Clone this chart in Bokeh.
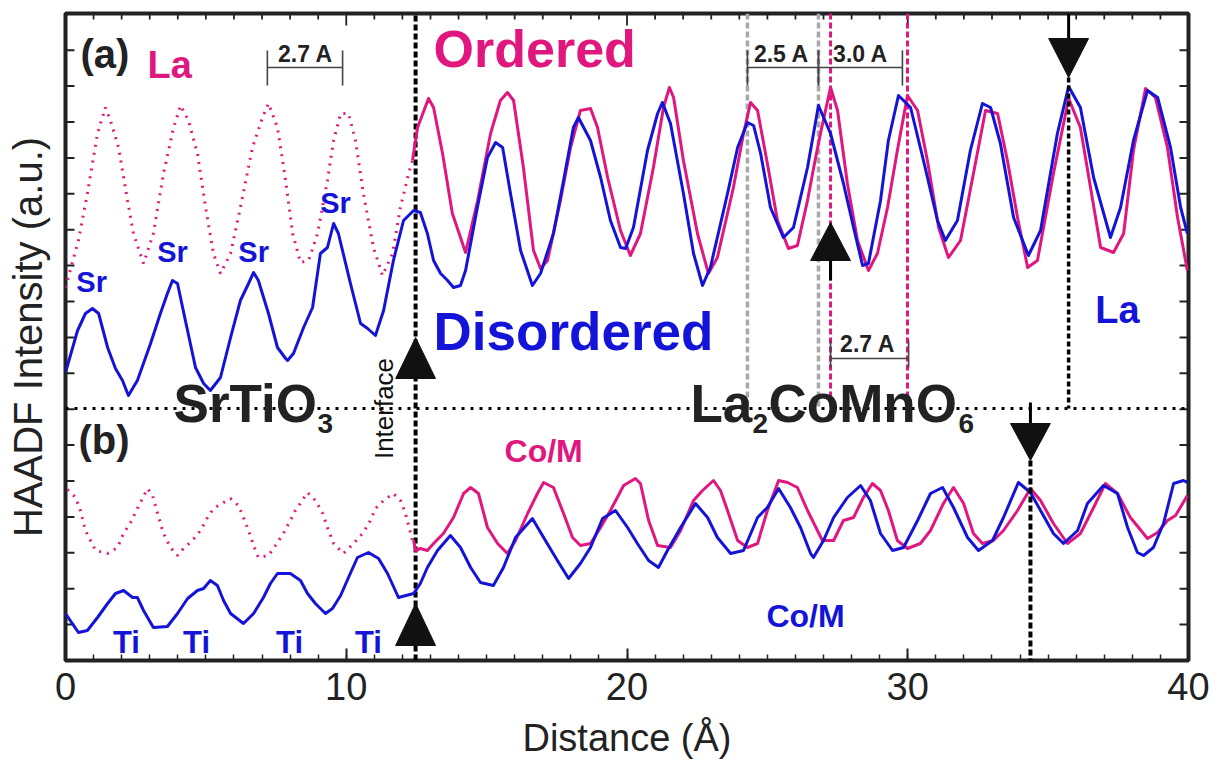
import math
from bokeh.plotting import figure
from bokeh.models import SingleIntervalTicker, FixedTicker, Label
from bokeh.embed import file_html
from bokeh.resources import INLINE

BLUE = "#1414d8"
MAG = "#e0177f"
INK = "#222222"
GRAY = "#a8a8a8"
FONT = "Liberation Sans"

# ---------------- data (Distance in Å, HAADF intensity in a.u.) ----------------
# (a) A-site profiles
a_blue_x = [0.00,0.43,0.71,0.96,1.18,1.50,1.78,2.03,2.24,2.56,
            3.03,3.38,3.63,3.81,3.99,4.27,4.63,4.92,5.16,5.52,
            5.88,6.23,6.52,6.70,6.87,7.23,7.55,7.84,7.91,8.12,
            8.48,8.80,9.08,9.33,9.55,9.72,10.15,10.51,10.76,11.04,
            11.33,11.68,12.04,12.40,12.64,12.89,13.11,13.36,13.61,13.82,
            14.07,14.25,14.67,15.03,15.32,15.57,15.85,16.21,16.63,16.92,
            17.38,17.74,18.09,18.27,18.70,19.06,19.41,19.77,19.95,20.23,
            20.73,21.09,21.26,21.55,22.01,22.37,22.69,22.97,23.58,23.94,
            24.29,24.51,24.76,25.11,25.57,25.93,26.43,26.82,27.25,27.71,
            28.07,28.39,28.60,29.03,29.31,29.67,30.10,30.56,31.06,31.34,
            31.77,32.23,32.66,32.95,33.30,33.77,34.30,34.73,35.33,35.73,
            36.15,36.62,37.22,37.58,38.04,38.54,38.90,39.36,39.72,39.96]
a_blue_y = [288,330,347,352,347,313,292,280,265,280,
            317,347,367,380,377,340,293,277,270,283,
            323,360,377,388,380,347,313,302,300,307,
            333,353,407,413,437,427,377,337,332,325,
            350,400,440,450,448,427,400,387,380,373,
            375,390,453,503,518,513,467,410,375,387,
            427,480,533,543,520,483,440,413,412,433,
            510,547,558,537,467,407,375,393,467,513,
            538,535,507,453,423,433,493,555,527,477,
            433,395,397,460,520,565,553,500,440,420,
            440,510,557,553,517,443,405,430,527,574,
            553,483,423,453,520,570,563,513,453,427]

a_mag_x = [12.36,12.54,12.93,13.11,13.43,13.78,14.25,14.68,15.14,15.49,
           15.74,15.96,16.31,16.67,16.92,17.17,17.63,17.99,18.34,18.70,
           18.95,19.31,19.77,20.12,20.48,20.94,21.30,21.51,21.66,22.01,
           22.51,22.90,23.22,23.79,24.15,24.40,24.65,25.00,25.36,25.75,
           26.07,26.43,26.65,26.89,27.25,27.50,27.85,28.21,28.60,28.92,
           29.28,29.63,29.99,30.35,30.70,31.10,31.45,31.88,32.34,32.77,
           33.20,33.55,33.91,34.27,34.62,35.19,35.73,36.15,36.51,36.87,
           37.33,37.69,38.04,38.47,38.82,39.25,39.61,39.96]
a_mag_y = [500,533,562,553,507,447,408,460,527,560,
           568,560,493,410,392,400,460,513,550,552,
           533,483,430,405,427,493,553,573,563,500,
           427,387,403,473,527,558,550,497,440,412,
           415,460,493,527,573,550,477,420,390,407,
           453,510,565,550,500,433,403,420,487,550,
           547,500,443,393,400,487,562,533,473,413,
           408,427,510,572,563,513,443,390]

a_dot_x = [0.00,0.46,0.78,1.14,1.42,1.60,1.89,2.21,2.42,2.78,
           3.13,3.49,3.85,4.10,4.38,4.70,4.99,5.27,5.52,5.88,
           6.23,6.66,7.02,7.23,7.55,7.84,8.09,8.37,8.66,8.98,
           9.33,9.55,9.80,10.08,10.33,10.61,10.97,11.29,11.65,11.93,
           12.22,12.36]
a_dot_y = [373,420,467,527,553,540,513,460,427,397,
           427,487,533,555,540,507,453,407,387,407,
           453,513,543,557,533,480,427,398,400,427,
           480,520,547,547,520,467,413,385,407,453,
           487,500]

# (b) B-site profiles
b_blue_x = [0.00,0.46,0.78,1.14,1.50,1.78,2.07,2.39,2.56,2.78,
            3.13,3.63,3.99,4.35,4.70,4.92,5.16,5.41,5.63,5.88,
            6.34,6.70,7.05,7.30,7.55,8.01,8.37,8.62,8.90,9.26,
            9.51,9.80,10.08,10.40,10.79,11.15,11.47,11.86,12.40,12.64,
            12.89,13.25,13.71,14.07,14.43,14.78,15.24,15.60,16.03,16.63,
            17.03,17.52,17.92,18.34,18.70,19.13,19.59,20.02,20.37,20.77,
            21.12,21.44,21.91,22.44,22.87,23.22,23.69,24.15,24.65,25.00,
            25.40,25.82,26.18,26.54,26.64,27.00,27.36,27.85,28.32,28.67,
            29.03,29.46,29.85,30.35,30.81,31.24,31.63,32.13,32.52,33.02,
            33.41,33.94,34.37,34.73,35.19,35.55,36.05,36.40,36.97,37.47,
            37.83,38.18,38.40,38.75,39.11,39.47,39.82,39.96]
b_blue_y = [47,28,30,43,57,67,70,63,63,50,
            33,34,47,62,70,72,80,75,60,47,
            37,47,63,77,87,87,80,67,57,47,
            52,65,83,103,108,102,87,63,67,77,
            93,110,125,113,93,78,75,93,123,142,
            123,100,82,97,113,142,150,133,117,100,
            93,110,133,157,143,123,107,110,143,153,
            172,153,133,107,103,120,143,163,175,160,
            127,110,113,140,167,173,153,123,110,120,
            143,178,168,150,127,117,130,157,175,167,
            133,108,105,113,137,177,180,178]

b_mag_x = [12.40,12.47,12.64,12.89,13.11,13.46,13.82,14.18,14.43,14.71,
           15.03,15.39,15.74,16.03,16.46,16.81,17.03,17.38,17.74,18.06,
           18.34,18.70,19.06,19.41,19.88,20.30,20.48,20.77,21.09,21.55,
           21.91,22.37,22.69,23.08,23.33,23.58,23.94,24.29,24.65,25.00,
           25.40,25.72,26.07,26.43,26.96,27.36,27.71,28.07,28.42,28.74,
           29.03,29.31,29.63,29.99,30.45,30.81,31.27,31.63,31.99,32.34,
           32.66,33.05,33.41,33.91,34.37,34.73,35.19,35.69,36.15,36.62,
           37.04,37.47,37.93,38.54,38.90,39.25,39.54,39.96]
b_mag_y = [120,110,112,110,117,127,143,167,173,167,
           133,117,107,120,147,167,178,173,147,123,
           115,117,133,150,175,182,177,140,115,113,
           130,160,170,180,170,150,120,113,117,150,
           180,178,173,150,120,120,140,143,163,177,
           170,150,120,112,117,130,157,173,157,127,
           117,120,130,150,172,160,137,117,127,153,
           177,167,143,122,128,140,145,165]

b_dot_x = [0.07,0.36,0.53,0.71,1.07,1.50,1.85,2.07,2.32,2.56,
           2.92,3.10,3.28,3.49,3.74,3.99,4.20,4.52,4.81,5.06,
           5.27,5.88,6.16,6.34,6.52,6.70,6.87,7.23,7.48,7.76,
           8.01,8.19,8.62,8.90,9.15,9.33,9.55,9.90,10.26,10.61,
           10.86,11.04,11.33,11.68,11.93,12.11,12.36]
b_dot_y = [171,163,150,130,110,107,113,127,138,152,
           172,165,147,127,113,105,112,120,130,143,
           152,162,155,143,130,115,103,105,115,127,
           140,150,168,160,148,133,117,107,117,128,
           140,152,160,167,160,147,120]

# axis ticks
X_MIN, X_MAX, Y_MIN, Y_MAX = 0, 40, 0, 647
x_major_step = 10
x_minor = list(range(0, 41))
y_ticks = [35.9 * k for k in range(1, 18)]

# reference positions (Å)
interface_x = 12.47
gray_marks = [24.29, 26.82]
mag_marks = [27.25, 29.99]
arrow_a_x = 35.73
arrow_b_x = 34.37
panel_split_y = 252

# ---------------- figure ----------------
p = figure(frame_width=1123, frame_height=647, x_range=(X_MIN, X_MAX), y_range=(Y_MIN, Y_MAX),
           output_backend="svg", toolbar_location=None,
           min_border_left=65, min_border_right=24, min_border_top=13, min_border_bottom=100,
           background_fill_color="white", border_fill_color="white")
p.grid.visible = False
p.outline_line_color = INK
p.outline_line_width = 4

xa = p.xaxis[0]
xa.ticker = SingleIntervalTicker(interval=x_major_step, num_minor_ticks=10)
xa.axis_line_color = None
xa.major_tick_in = 12
xa.major_tick_out = 0
xa.minor_tick_in = 6
xa.minor_tick_out = 0
xa.major_tick_line_color = INK
xa.minor_tick_line_color = INK
xa.major_tick_line_width = 2
xa.minor_tick_line_width = 1.5
xa.major_label_text_font = FONT
xa.major_label_text_font_size = "38px"
xa.major_label_text_color = INK
xa.major_label_standoff = 12
xa.axis_label = "Distance (Å)"
xa.axis_label_text_font = FONT
xa.axis_label_text_font_size = "38px"
xa.axis_label_text_font_style = "normal"
xa.axis_label_text_color = INK
xa.axis_label_standoff = 14

ya = p.yaxis[0]
ya.ticker = FixedTicker(ticks=[])
ya.axis_line_color = None
ya.major_tick_in = 0
ya.major_tick_out = 0
ya.minor_tick_in = 0
ya.minor_tick_out = 0
ya.major_label_standoff = 0
ya.axis_label = "HAADF Intensity (a.u.)"
ya.axis_label_text_font = FONT
ya.axis_label_text_font_size = "40px"
ya.axis_label_text_font_style = "normal"
ya.axis_label_text_color = INK
ya.axis_label_standoff = 16

# inward ticks on top, left and right edges
top_x0 = x_minor
top_y0 = [Y_MAX] * len(x_minor)
top_y1 = [Y_MAX - (12 if v % x_major_step == 0 else 6) for v in x_minor]
p.segment(top_x0, top_y0, top_x0, top_y1, line_color=INK, line_width=1.8)
ytl = 0.32
p.segment([X_MIN] * len(y_ticks), y_ticks, [X_MIN + ytl] * len(y_ticks), y_ticks, line_color=INK, line_width=2)
p.segment([X_MAX] * len(y_ticks), y_ticks, [X_MAX - ytl] * len(y_ticks), y_ticks, line_color=INK, line_width=2)

# ---------------- reference lines ----------------
for gx in gray_marks:
    p.line([gx, gx], [Y_MAX, panel_split_y], line_color=GRAY, line_width=3.5, line_dash="6 3")
for mx in mag_marks:
    p.line([mx, mx], [Y_MAX, panel_split_y], line_color=MAG, line_width=3, line_dash="6 3")

p.line([interface_x, interface_x], [Y_MIN, Y_MAX], line_color="black", line_width=4, line_dash="6 3")

# ---------------- curves ----------------
p.line(a_dot_x, a_dot_y, line_color=MAG, line_width=3, line_dash="2 6")
p.line(b_dot_x, b_dot_y, line_color=MAG, line_width=3, line_dash="2 6")
p.line(a_mag_x, a_mag_y, line_color=MAG, line_width=3, line_join="round")
p.line(a_blue_x, a_blue_y, line_color=BLUE, line_width=3, line_join="round")
p.line(b_mag_x, b_mag_y, line_color=MAG, line_width=3, line_join="round")
p.line(b_blue_x, b_blue_y, line_color=BLUE, line_width=3, line_join="round")

# panel separator (dotted)
p.line([X_MIN, X_MAX], [panel_split_y, panel_split_y], line_color="black", line_width=3, line_dash="3 6")

# arrow (a) at right
p.line([arrow_a_x, arrow_a_x], [Y_MAX, 622], line_color="black", line_width=3)
p.line([arrow_a_x, arrow_a_x], [583, panel_split_y], line_color="black", line_width=3.5, line_dash="5 3")
# arrow (b) at right
p.line([arrow_b_x, arrow_b_x], [258, 237], line_color="black", line_width=3)
p.line([arrow_b_x, arrow_b_x], [200, Y_MIN], line_color="black", line_width=4, line_dash="6 3")
# stem under up-arrow in (a)
p.line([mag_marks[0], mag_marks[0]], [400, 380], line_color="black", line_width=3)

hw = 0.71
tri_xs = [[interface_x - hw, interface_x + hw, interface_x],
          [interface_x - hw, interface_x + hw, interface_x],
          [mag_marks[0] - hw, mag_marks[0] + hw, mag_marks[0]],
          [arrow_a_x - hw, arrow_a_x + hw, arrow_a_x],
          [arrow_b_x - hw, arrow_b_x + hw, arrow_b_x]]
tri_ys = [[282, 282, 323],
          [15, 15, 57],
          [400, 400, 438],
          [622, 622, 583],
          [237, 237, 200]]
p.patches(tri_xs, tri_ys, fill_color="#111111", line_color="#111111", line_width=1)

# scale bars
BAR = "#444444"
bars = [((7.19, 9.87), 593, (610, 575)),
        ((24.29, 26.82), 593, (610, 575)),
        ((26.82, 29.81), 593, (610, 575)),
        ((27.25, 30.03), 302, (320, 293))]
for (x0, x1), yb, (t0, t1) in bars:
    p.line([x0, x1], [yb, yb], line_color=BAR, line_width=1.6)
    p.line([x0, x0], [t0, t1], line_color=BAR, line_width=1.6)
    p.line([x1, x1], [t0, t1], line_color=BAR, line_width=1.6)

# ---------------- texts ----------------
def lab(x, y, text, size, color, bold=True, align="left", baseline="alphabetic", angle=0.0):
    # shift so that the drawn alphabetic baseline lands on y
    dy = 0.35 * size if baseline == "alphabetic" else 0.0
    p.add_layout(Label(x=x, y=y + dy, text=text, text_font=FONT, text_font_size=f"{size}px",
                       text_font_style="bold" if bold else "normal", text_color=color,
                       text_align=align, text_baseline=baseline, angle=angle))

lab(0.53, 593, "(a)", 40, INK)
lab(0.46, 207, "(b)", 40, INK)
lab(2.92, 582, "La", 38, MAG)
lab(13.11, 593, "Ordered", 52, MAG)
lab(13.11, 310, "Disordered", 53, BLUE)
lab(37.47, 337, "La", 38, BLUE, align="center")

lab(3.85, 238, "SrTiO", 53, INK)
lab(8.98, 227, "3", 28, INK)
lab(22.26, 238, "La", 53, INK)
lab(24.47, 227, "2", 28, INK)
lab(25.04, 238, "CoMnO", 53, INK)
lab(31.81, 227, "6", 28, INK)

for sx, sy in [(0.93, 368), (3.81, 398), (6.70, 398), (9.62, 447)]:
    lab(sx, sy, "Sr", 29, BLUE, align="center")
for tx in [2.17, 4.67, 7.98, 10.79]:
    lab(tx, 7, "Ti", 31, BLUE, align="center")

lab(17.03, 198, "Co/M", 32, MAG, align="center")
lab(26.36, 33, "Co/M", 32, BLUE, align="center")

lab(11.33, 252, "Interface", 26, "#111111", bold=False, align="center",
    baseline="middle", angle=math.pi / 2)

lab(8.55, 598, "2.7 A", 23, INK, align="center")
lab(25.50, 598, "2.5 A", 23, INK, align="center")
lab(28.32, 598, "3.0 A", 23, INK, align="center")
lab(28.57, 308, "2.7 A", 23, INK, align="center")

open("out.html", "w").write(file_html(p, INLINE))
